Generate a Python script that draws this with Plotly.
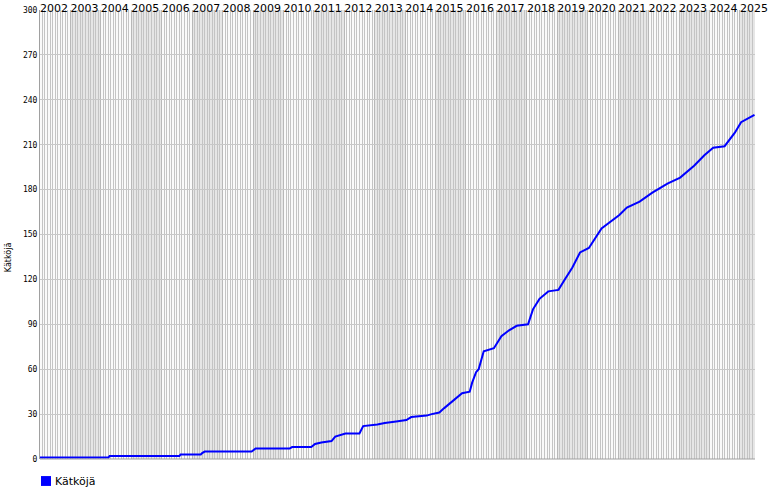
import plotly.graph_objects as go

# Data (cumulative count)
dates = [
    "2002-01-01", "2004-04-01", "2004-04-15", "2006-08-01", "2006-08-15",
    "2007-04-15", "2007-05-01", "2007-06-01", "2008-12-15", "2009-02-01",
    "2010-03-15", "2010-04-15", "2010-12-01", "2011-01-15", "2011-04-01",
    "2011-08-01", "2011-09-15", "2012-01-15", "2012-07-01", "2012-08-15",
    "2013-02-01", "2013-05-01", "2013-09-15", "2014-01-15", "2014-03-15",
    "2014-09-15", "2014-11-15", "2015-02-15", "2015-04-15", "2015-07-15",
    "2015-09-15", "2015-11-15", "2016-02-15", "2016-03-15", "2016-05-01",
    "2016-06-01", "2016-08-01", "2016-12-01", "2017-03-01", "2017-06-01",
    "2017-09-01", "2018-01-15", "2018-03-15", "2018-06-01", "2018-09-15",
    "2019-01-15", "2019-04-01", "2019-07-01", "2019-10-01", "2020-01-15",
    "2020-06-15", "2021-01-15", "2021-04-15", "2021-09-15", "2022-02-15",
    "2022-08-15", "2023-01-15", "2023-07-01", "2023-11-01", "2024-02-15",
    "2024-07-01", "2024-11-01", "2025-01-15", "2025-05-01", "2025-06-25",
]
values = [
    1, 1, 2, 2, 3,
    3, 4, 5, 5, 7,
    7, 8, 8, 10, 11,
    12, 15, 17, 17, 22,
    23, 24, 25, 26, 28,
    29, 30, 31, 34, 38,
    41, 44, 45, 51, 58,
    60, 72, 74, 82, 86,
    89, 90, 100, 107, 112,
    113, 120, 128, 138, 141,
    154, 163, 168, 172, 178,
    184, 188, 196, 203, 208,
    209, 218, 225, 228, 230,
]
years = list(range(2002, 2026))
y_ticks = list(range(0, 301, 30))
series_name = "Kätköjä"

fig = go.Figure()

# alternate-year shading
for yr in years:
    if yr % 2 == 1:
        fig.add_shape(type="rect", xref="x", yref="paper",
                      x0=f"{yr}-01-01", x1=f"{yr + 1}-01-01", y0=0, y1=1,
                      fillcolor="#e6e6e6", line_width=0, layer="below")

fig.add_trace(go.Scatter(x=dates, y=values, mode="lines", name=series_name,
                         line=dict(color="#0000ff", width=2),
                         showlegend=False, hoverinfo="x+y"))

fig.update_layout(
    width=770, height=500,
    margin=dict(l=40, r=15, t=10, b=41, autoexpand=False),
    paper_bgcolor="white", plot_bgcolor="#fafafa",
    font=dict(family="DejaVu Sans", size=11, color="black"),
    showlegend=False,
    xaxis=dict(
        type="date", side="top", automargin=False,
        range=["2002-01-01", "2025-07-01"],
        tickvals=[f"{y}-01-01" for y in years],
        ticktext=[str(y) for y in years],
        ticklabelshift=14, ticklabelstandoff=-5,
        ticks="", showgrid=True, gridcolor="#b8b8b8", gridwidth=1,
        minor=dict(dtick="M1", showgrid=True, gridcolor="#c4c4c4", gridwidth=1),
        showline=False, zeroline=False,
        tickfont=dict(family="DejaVu Sans", size=11, color="black"),
    ),
    yaxis=dict(
        range=[0, 300], tickvals=y_ticks, automargin=False,
        showgrid=True, gridcolor="#c8c8c8", gridwidth=1,
        showline=True, linecolor="#a0a0a0", zeroline=False,
        ticks="", tickfont=dict(family="DejaVu Sans Mono", size=8, color="black"),
    ),
    annotations=[
        dict(text=series_name, textangle=-90, xref="paper", yref="paper",
             x=-0.043, y=0.45, showarrow=False, xanchor="center", yanchor="middle",
             font=dict(family="DejaVu Sans", size=8, color="black")),
        dict(text=series_name, xref="paper", yref="paper",
             x=0.0185, y=-0.049, showarrow=False, xanchor="left", yanchor="middle",
             font=dict(family="DejaVu Sans", size=11, color="black")),
    ],
)
fig.add_shape(type="line", xref="paper", yref="paper", x0=0, x1=1, y0=0, y1=0,
              line=dict(color="#a0a0a0", width=1))
# legend swatch
fig.add_shape(type="rect", xref="paper", yref="paper",
              x0=0.0014, x1=0.0154, y0=-0.038, y1=-0.06,
              fillcolor="#0000ff", line_width=0)

fig.write_html("out.html", config={"displayModeBar": False},
               post_script="document.body.style.margin='0';document.body.style.padding='0';")
